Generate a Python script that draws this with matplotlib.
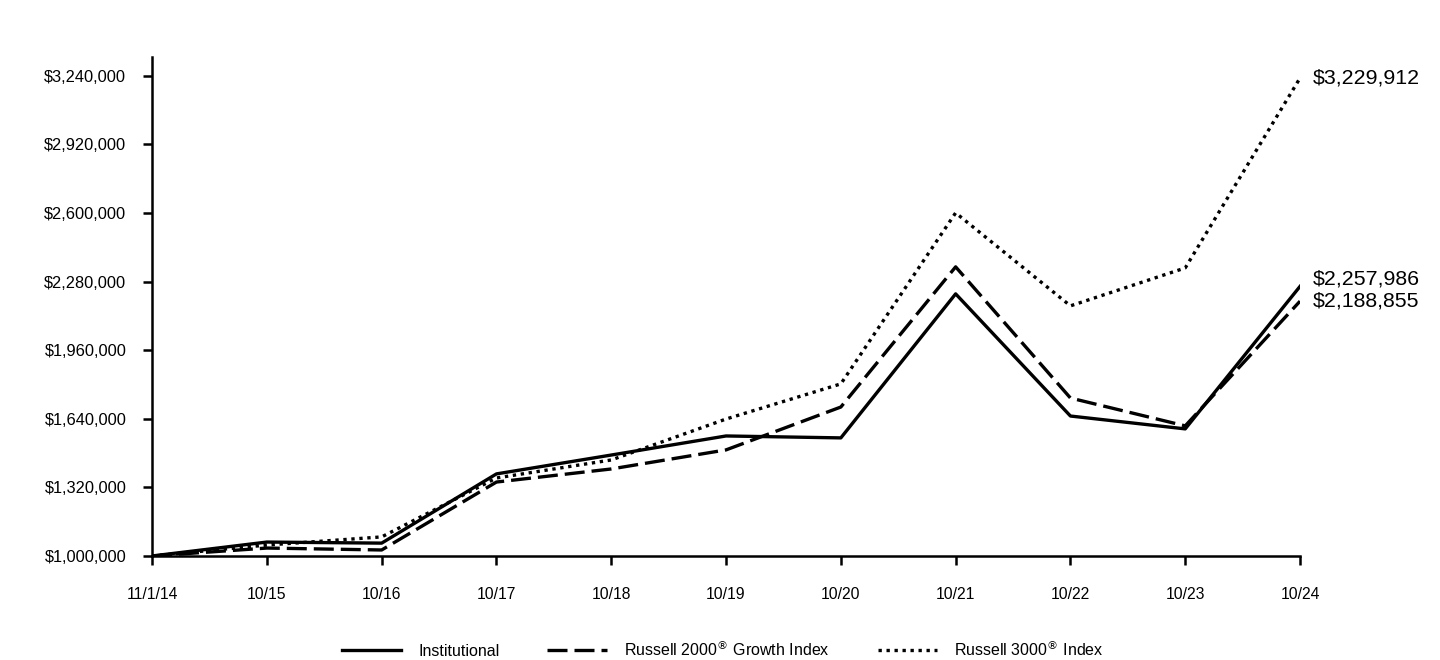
import matplotlib
matplotlib.use('Agg')
from matplotlib import pyplot
from matplotlib.ticker import FuncFormatter

pyplot.rcParams['font.family'] = ['Liberation Sans', 'DejaVu Sans']

dates = ['11/1/14', '10/15', '10/16', '10/17', '10/18', '10/19',
         '10/20', '10/21', '10/22', '10/23', '10/24']

institutional = [1000000, 1065000, 1060000, 1383000, 1471000, 1560000,
                 1551000, 2223000, 1653000, 1593000, 2257986]
russell_2000_growth = [1000000, 1037000, 1028000, 1345000, 1406000, 1495000,
                       1695000, 2349000, 1737000, 1607000, 2188855]
russell_3000 = [1000000, 1051000, 1089000, 1364000, 1448000, 1639000,
                1803000, 2601000, 2167000, 2344000, 3229912]

yticks = [1000000, 1320000, 1640000, 1960000, 2280000, 2600000, 2920000, 3240000]

fig = pyplot.figure(figsize=(14.4, 6.6), dpi=100)
ax = fig.add_axes([0.1056, 0.1576, 0.7972, 0.756])

x = list(range(len(dates)))
LW = 2.4
ax.plot(x, institutional, '-', color='black', lw=LW, label='Institutional')
ax.plot(x, russell_2000_growth, color='black', lw=LW, dashes=(6, 2.1),
        label='Russell 2000$^{\\circledR}$ Growth Index')
ax.plot(x, russell_3000, color='black', lw=LW, dashes=(1.0, 1.4),
        label='Russell 3000$^{\\circledR}$ Index')

ax.set_xlim(0, len(dates) - 1)
ax.set_ylim(1000000, 3328000)
ax.set_xticks(x)
ax.set_xticklabels(dates)
ax.set_yticks(yticks)
ax.yaxis.set_major_formatter(FuncFormatter(lambda v, p: '${:,.0f}'.format(v)))

for s in ['top', 'right']:
    ax.spines[s].set_visible(False)
for s in ['left', 'bottom']:
    ax.spines[s].set_linewidth(1.8)
ax.tick_params(axis='both', direction='out', length=6.5, width=1.8)
ax.tick_params(axis='x', pad=15.5, labelsize=11.3)
ax.tick_params(axis='y', pad=12, labelsize=11.8)

last = len(dates) - 1
ax.annotate('${:,.0f}'.format(russell_3000[-1]), (last, russell_3000[-1]),
            xytext=(9, 0), textcoords='offset points', va='center', fontsize=15.4)
ax.annotate('${:,.0f}'.format(institutional[-1]), (last, institutional[-1]),
            xytext=(9, 5), textcoords='offset points', va='center', fontsize=15.4)
ax.annotate('${:,.0f}'.format(russell_2000_growth[-1]), (last, russell_2000_growth[-1]),
            xytext=(9, 0), textcoords='offset points', va='center', fontsize=15.4)

fig.legend(loc='lower center', bbox_to_anchor=(0.502, -0.02), ncol=3, frameon=False,
           fontsize=11.5, handlelength=3.7, columnspacing=3.0, handletextpad=1.1)

fig.savefig('out.png', dpi=100)
